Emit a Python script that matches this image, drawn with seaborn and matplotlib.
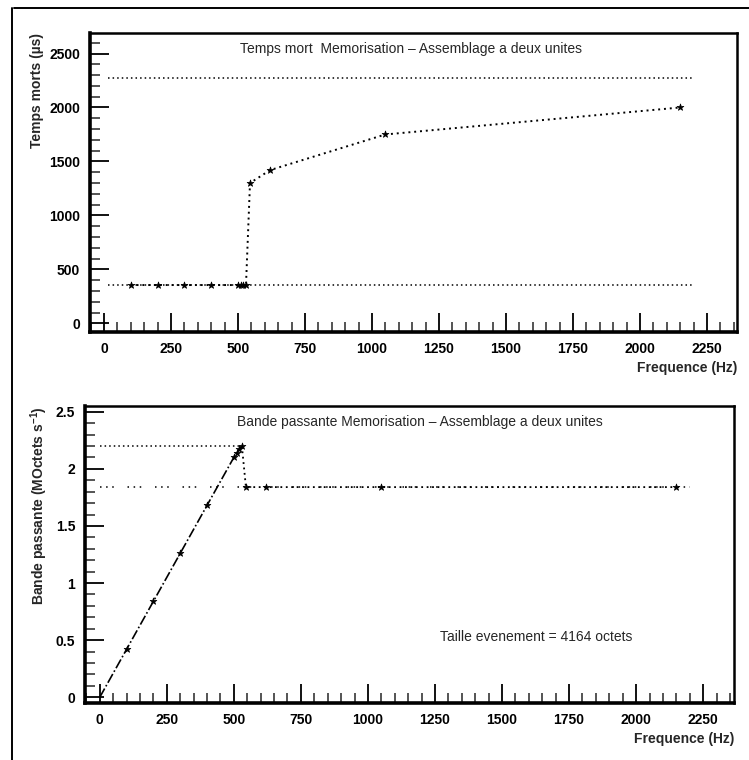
import matplotlib
matplotlib.use("Agg")
import matplotlib.pyplot as plt
import seaborn as sns
import pandas as pd
from matplotlib.lines import Line2D
from matplotlib.ticker import MultipleLocator, FuncFormatter

sns.set_style("ticks")
plt.rcParams["font.family"] = ["Liberation Sans", "DejaVu Sans"]
plt.rcParams["mathtext.fontset"] = "custom"
plt.rcParams["mathtext.rm"] = "Liberation Sans:bold"
plt.rcParams["mathtext.it"] = "Liberation Sans:bold"

# Dead time versus trigger frequency
freq_dead = [100, 200, 300, 400, 500, 510, 520, 530, 545, 620, 1050, 2150]
dead_time = [355, 355, 355, 355, 355, 355, 355, 355, 1300, 1420, 1750, 2000]
dead_ref_x = [15, 2200]
dead_low = 355
dead_high = 2270

# Bandwidth versus trigger frequency
freq_rise = [0, 100, 200, 300, 400, 500, 510, 520, 530]
bw_rise = [0.0, 0.42, 0.84, 1.26, 1.68, 2.10, 2.14, 2.17, 2.20]
freq_sat = [530, 545, 620, 1050, 2150]
bw_sat = [2.20, 1.84, 1.84, 1.84, 1.84]
bw_peak = 2.20
bw_plateau = 1.84
peak_ref_x = [0, 530]
plateau_ref_x = [0, 2200]
event_size = 4164

W, H = 749, 760
fig = plt.figure(figsize=(W / 100, H / 100), dpi=100)
fig.patch.set_facecolor("white")

# page frame
fig.add_artist(Line2D([14 / W, 1.0], [1 - 8 / H, 1 - 8 / H], transform=fig.transFigure,
                      color="black", lw=1.4))
fig.add_artist(Line2D([12 / W, 12 / W], [0.0, 1 - 8 / H], transform=fig.transFigure,
                      color="black", lw=1.4))

ax1 = fig.add_axes([90 / W, 1 - 332 / H, 647 / W, 299 / H])
ax2 = fig.add_axes([85 / W, 1 - 703 / H, 649 / W, 297 / H])

dot = (0, (1.0, 2.0))
sparse = (0, (1.0, 3.0, 1.0, 3.0, 1.0, 9.0))
dashdot = (0, (6.0, 1.5, 1.0, 1.5))

# ---- top panel: dead time
df_dead = pd.DataFrame({"f": freq_dead, "t": dead_time})
sns.lineplot(x=dead_ref_x, y=[dead_high, dead_high], ax=ax1, color="black",
             lw=1.1, linestyle=dot)
sns.lineplot(x=dead_ref_x, y=[dead_low, dead_low], ax=ax1, color="black",
             lw=1.1, linestyle=dot)
sns.lineplot(data=df_dead, x="f", y="t", ax=ax1, color="black", lw=1.4,
             linestyle=dot, sort=False)
sns.scatterplot(data=df_dead, x="f", y="t", ax=ax1, color="black", marker="*",
                s=26, edgecolor="black", linewidth=0.5, zorder=5)
ax1.set_xlim(-52, 2362)
ax1.set_ylim(-80, 2690)
ax1.yaxis.set_major_locator(MultipleLocator(500))
ax1.yaxis.set_minor_locator(MultipleLocator(100))
ax1.text(0.496, 0.946, "Temps mort  Memorisation \u2013 Assemblage a deux unites",
         transform=ax1.transAxes, ha="center", va="center", fontsize=10)
ax1.set_ylabel("Temps morts (\u00b5s)", loc="top", fontsize=10, fontweight="bold",
               labelpad=4)

# ---- bottom panel: bandwidth
df_rise = pd.DataFrame({"f": freq_rise, "b": bw_rise})
df_sat = pd.DataFrame({"f": freq_sat, "b": bw_sat})
sns.lineplot(x=peak_ref_x, y=[bw_peak, bw_peak], ax=ax2, color="black",
             lw=1.1, linestyle=dot)
sns.lineplot(x=plateau_ref_x, y=[bw_plateau, bw_plateau], ax=ax2, color="black",
             lw=1.1, linestyle=sparse)
sns.lineplot(data=df_rise, x="f", y="b", ax=ax2, color="black", lw=1.2,
             linestyle=dashdot, sort=False)
sns.lineplot(data=df_sat, x="f", y="b", ax=ax2, color="black", lw=1.3,
             linestyle=dot, sort=False)
sns.scatterplot(data=df_rise.iloc[1:], x="f", y="b", ax=ax2, color="black",
                marker="*", s=26, edgecolor="black", linewidth=0.5, zorder=5)
sns.scatterplot(data=df_sat.iloc[1:], x="f", y="b", ax=ax2, color="black",
                marker="*", s=26, edgecolor="black", linewidth=0.5, zorder=5)
ax2.set_xlim(-55, 2365)
ax2.set_ylim(-0.05, 2.55)
ax2.yaxis.set_major_locator(MultipleLocator(0.5))
ax2.yaxis.set_minor_locator(MultipleLocator(0.1))
ax2.yaxis.set_major_formatter(FuncFormatter(lambda v, p: f"{v:g}"))
ax2.text(0.516, 0.946, "Bande passante Memorisation \u2013 Assemblage a deux unites",
         transform=ax2.transAxes, ha="center", va="center", fontsize=10)
ax2.text(0.695, 0.222, f"Taille evenement = {event_size} octets",
         transform=ax2.transAxes, ha="center", va="center", fontsize=10)
ax2.set_ylabel("Bande passante (MOctets s$^{-1}$)", loc="top", fontsize=10,
               fontweight="bold", labelpad=4)

for ax in (ax1, ax2):
    ax.xaxis.set_major_locator(MultipleLocator(250))
    ax.xaxis.set_minor_locator(MultipleLocator(50))
    ax.tick_params(which="major", direction="in", length=14, width=1.3,
                   top=False, right=False, labelsize=10, pad=7, colors="black")
    ax.tick_params(which="minor", direction="in", length=7, width=1.1,
                   top=False, right=False)
    for lab in ax.get_xticklabels() + ax.get_yticklabels():
        lab.set_fontweight("bold")
    ax.set_xlabel("Frequence (Hz)", loc="right", fontsize=10, fontweight="bold",
                  labelpad=4)
    for side in ("left", "bottom"):
        ax.spines[side].set_linewidth(2.6)
    for side in ("top", "right"):
        ax.spines[side].set_linewidth(1.8)
    for sp in ax.spines.values():
        sp.set_color("black")
        sp.set_visible(True)
    ax.set_facecolor("white")

fig.savefig("out.png", dpi=100, facecolor="white")
